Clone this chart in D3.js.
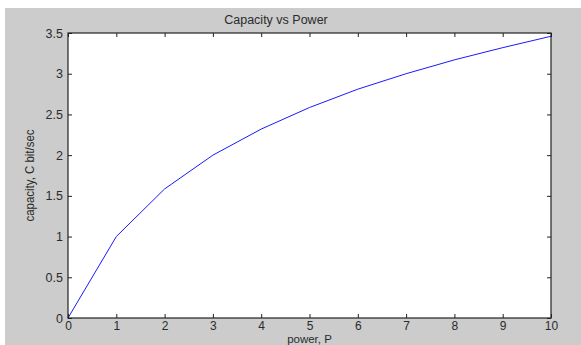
<!DOCTYPE html>
<html>
<head>
<meta charset="utf-8">
<script src="https://cdn.jsdelivr.net/npm/d3@7"></script>
<style>
  body { margin: 0; background: #fff; }
  svg { display: block; }
  text { font-family: "Liberation Sans", Arial, sans-serif; fill: #2b2b2b; }
</style>
</head>
<body>
<svg id="chart" width="581" height="345"></svg>
<script>
// Data (capacity vs power)
const powerP = [0, 1, 2, 3, 4, 5, 6, 7, 8, 9, 10];
const capacityC = [0, 1, 1.585, 2, 2.32, 2.585, 2.81, 3, 3.17, 3.32, 3.46];
const xTicks = [0, 1, 2, 3, 4, 5, 6, 7, 8, 9, 10];
const yTicks = [0, 0.5, 1, 1.5, 2, 2.5, 3, 3.5];

const svg = d3.select('#chart');
const width = +svg.attr('width');
const height = +svg.attr('height');

// Figure background
svg.append('rect')
    .attr('x', 5).attr('y', 8)
    .attr('width', width - 5).attr('height', height - 8)
    .attr('fill', '#cccccc');

const margin = { top: 33, right: 30, bottom: 27, left: 68 };
const x0 = margin.left, x1 = width - margin.right;
const y0 = height - margin.bottom, y1 = margin.top;

const xScale = d3.scaleLinear().domain([0, 10]).range([x0, x1]);
const yScale = d3.scaleLinear().domain([0, 3.5]).range([y0, y1]);

// Plot area
svg.append('rect')
    .attr('x', x0).attr('y', y1)
    .attr('width', x1 - x0).attr('height', y0 - y1)
    .attr('fill', 'white');

// Line
const line = d3.line()
    .x((d, i) => xScale(powerP[i]))
    .y(d => yScale(d));

svg.append('path')
    .datum(capacityC)
    .attr('d', line)
    .attr('fill', 'none')
    .attr('stroke', '#1a1aff')
    .attr('stroke-width', 1);

// Axes (ticks inside, mirrored on top/right)
const tick = 4;
const xAxis = svg.append('g')
    .attr('transform', `translate(0,${y0})`)
    .call(d3.axisBottom(xScale).tickValues(xTicks).tickSize(-tick).tickSizeOuter(0).tickPadding(3).tickFormat(d3.format('d')));
const xTop = svg.append('g')
    .attr('transform', `translate(0,${y1})`)
    .call(d3.axisTop(xScale).tickValues(xTicks).tickSize(-tick).tickSizeOuter(0).tickFormat(''));
const yAxis = svg.append('g')
    .attr('transform', `translate(${x0},0)`)
    .call(d3.axisLeft(yScale).tickValues(yTicks).tickSize(-tick).tickSizeOuter(0).tickPadding(5).tickFormat(d => d));
const yRight = svg.append('g')
    .attr('transform', `translate(${x1},0)`)
    .call(d3.axisRight(yScale).tickValues(yTicks).tickSize(-tick).tickSizeOuter(0).tickFormat(''));

[xAxis, xTop, yAxis, yRight].forEach(g => {
    g.select('.domain').remove();
    g.selectAll('line').attr('stroke', '#222');
    g.selectAll('text')
        .attr('font-size', 12.5)
        .attr('font-family', '"Liberation Sans", Arial, sans-serif')
        .attr('fill', '#2b2b2b');
});
xAxis.selectAll('text').attr('font-size', 12);

// Box frame
svg.append('rect')
    .attr('x', x0).attr('y', y1)
    .attr('width', x1 - x0).attr('height', y0 - y1)
    .attr('fill', 'none')
    .attr('stroke', '#222')
    .attr('stroke-width', 1.2);

// Title
svg.append('text')
    .attr('x', 276)
    .attr('y', 24)
    .attr('text-anchor', 'middle')
    .attr('font-size', 12.5)
    .text('Capacity vs Power');

// X label
svg.append('text')
    .attr('x', (x0 + x1) / 2)
    .attr('y', 343)
    .attr('text-anchor', 'middle')
    .attr('font-size', 11.5)
    .text('power, P');

// Y label
svg.append('text')
    .attr('transform', `translate(34,${(y0 + y1) / 2}) rotate(-90)`)
    .attr('text-anchor', 'middle')
    .attr('font-size', 12)
    .attr('textLength', 92)
    .attr('lengthAdjust', 'spacingAndGlyphs')
    .text('capacity, C bit/sec');
</script>
</body>
</html>
